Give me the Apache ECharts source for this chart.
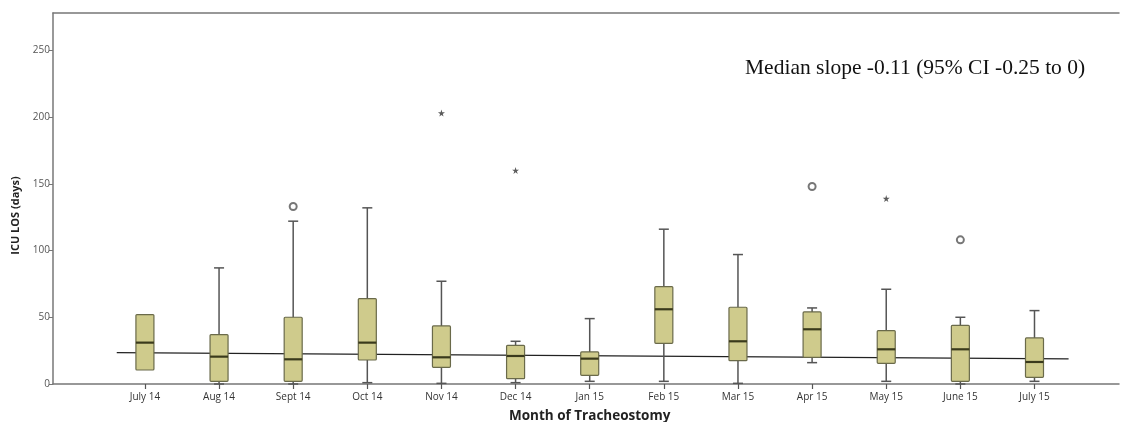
<!DOCTYPE html>
<html>
<head>
<meta charset="utf-8">
<script src="https://cdn.jsdelivr.net/npm/echarts@6/dist/echarts.min.js"></script>
<style>
  html, body { margin: 0; padding: 0; background: #fff; }
  #chart { width: 1122px; height: 422px; }
</style>
</head>
<body>
<div id="chart"></div>
<script>
// --- data ---
const months = ['July 14', 'Aug 14', 'Sept 14', 'Oct 14', 'Nov 14', 'Dec 14', 'Jan 15',
                'Feb 15', 'Mar 15', 'Apr 15', 'May 15', 'June 15', 'July 15'];
// [min, Q1, median, Q3, max] for each month (days)
const boxStats = [
    [10.5, 10.5, 31, 52, 52],
    [0, 2, 20.5, 37, 87],
    [0, 2, 18.5, 50, 122],
    [1, 18, 31, 64, 132],
    [0.5, 12.5, 20, 43.5, 77],
    [1, 4, 21, 29, 32],
    [2, 6.5, 19, 24, 49],
    [2, 30.5, 56, 73, 116],
    [0.5, 17.5, 32, 57.5, 97],
    [16, 20, 41, 54, 57],
    [2, 15.5, 26, 40, 71],
    [0, 2, 26, 44, 50],
    [2, 5, 16.5, 34.5, 55]
];
// outliers: [month index, value]
const circleOutliers = [[2, 133], [9, 148], [11, 108]];
const starOutliers = [[4, 203], [5, 160], [10, 139]];
// fitted median trend line (x in month index units)
const trendX = [-0.38, 12.46];
const trendY = [23.5, 18.8];
const yTicks = { min: 0, max: 278, interval: 50 };

// --- layout helpers (pixel frame of the plot) ---
const frameLeft = 53, frameRight = 3, frameTop = 13, frameBottom = 38;
const xMin = -1.24, xMax = 13.14;
const unit = (1122 - frameLeft - frameRight) / (xMax - xMin);
const catLeft = frameLeft + (0 - 0.5 - xMin) * unit;
const catRight = 1122 - catLeft - months.length * unit;

const chart = echarts.init(document.getElementById('chart'));

const boxFill = '#cfcb8c', boxEdge = '#6a6a4a', medianCol = '#3a3a1c', whiskCol = '#555';

function renderBox(params, api) {
    const i = api.value(0);
    const p = [1, 2, 3, 4, 5].map(d => api.coord([i, api.value(d)]));
    const cx = p[0][0], bw = 18, cw = 10;
    const children = [];
    const line = (x1, y1, x2, y2, col, w) => ({
        type: 'line', shape: { x1, y1, x2, y2 }, style: { stroke: col, lineWidth: w }
    });
    if (p[0][1] - p[1][1] > 0.5) {
        children.push(line(cx, p[1][1], cx, p[0][1], whiskCol, 1.5));
        children.push(line(cx - cw / 2, p[0][1], cx + cw / 2, p[0][1], whiskCol, 1.5));
    }
    if (p[3][1] - p[4][1] > 0.5) {
        children.push(line(cx, p[3][1], cx, p[4][1], whiskCol, 1.5));
        children.push(line(cx - cw / 2, p[4][1], cx + cw / 2, p[4][1], whiskCol, 1.5));
    }
    children.push({
        type: 'rect',
        shape: { x: cx - bw / 2, y: p[3][1], width: bw, height: p[1][1] - p[3][1], r: 1 },
        style: { fill: boxFill, stroke: boxEdge, lineWidth: 1.2 }
    });
    children.push(line(cx - bw / 2, p[2][1], cx + bw / 2, p[2][1], medianCol, 2.2));
    return { type: 'group', children };
}

const starPath = 'path://M50,0 L61,35 L98,35 L68,57 L79,91 L50,70 L21,91 L32,57 L2,35 L39,35 Z';
const axisGrey = '#777';

chart.setOption({
    animation: false,
    backgroundColor: '#fff',
    grid: [
        { left: frameLeft, right: frameRight, top: frameTop, bottom: frameBottom, outerBoundsMode: 'none' },
        { left: catLeft, right: catRight, top: frameTop, bottom: frameBottom, outerBoundsMode: 'none' }
    ],
    xAxis: [
        {
            type: 'value', gridIndex: 0, min: xMin, max: xMax, position: 'bottom',
            axisLine: { show: true, onZero: false, lineStyle: { color: axisGrey, width: 1.5 } },
            axisTick: { show: false }, axisLabel: { show: false }, splitLine: { show: false }
        },
        {
            type: 'value', gridIndex: 0, min: xMin, max: xMax, position: 'top',
            axisLine: { show: true, onZero: false, lineStyle: { color: axisGrey, width: 1.5 } },
            axisTick: { show: false }, axisLabel: { show: false }, splitLine: { show: false }
        },
        {
            type: 'category', gridIndex: 1, data: months,
            axisLine: { show: false },
            axisTick: { show: true, alignWithLabel: true, length: 5, lineStyle: { color: '#555', width: 1.2 } },
            axisLabel: { margin: 8, fontFamily: 'Open Sans', fontSize: 10, color: '#333' },
            name: 'Month of Tracheostomy', nameLocation: 'middle', nameGap: 25,
            nameTextStyle: { fontFamily: 'Open Sans', fontWeight: 'bold', fontSize: 13.5, color: '#222' }
        }
    ],
    yAxis: [
        {
            type: 'value', gridIndex: 0, min: yTicks.min, max: yTicks.max, interval: yTicks.interval,
            axisLine: { show: true, onZero: false, lineStyle: { color: axisGrey, width: 1.5 } },
            axisTick: { show: true, length: 4, lineStyle: { color: axisGrey } },
            axisLabel: { margin: 3, fontFamily: 'Open Sans', fontSize: 10, color: '#555',
                         showMaxLabel: false },
            splitLine: { show: false },
            name: 'ICU LOS (days)', nameLocation: 'middle', nameGap: 32,
            nameTextStyle: { fontFamily: 'Open Sans', fontWeight: 'bold', fontSize: 11, color: '#222',
                             padding: [0, 34, 0, 0] }
        },
        {
            type: 'value', gridIndex: 1, min: yTicks.min, max: yTicks.max, show: false
        }
    ],
    series: [
        {
            type: 'line', xAxisIndex: 0, yAxisIndex: 0, z: 1,
            data: trendX.map((x, k) => [x, trendY[k]]),
            symbol: 'none', lineStyle: { color: '#222', width: 1.2 }
        },
        {
            type: 'custom', xAxisIndex: 2, yAxisIndex: 1, z: 3,
            renderItem: renderBox,
            data: boxStats.map((s, i) => [i].concat(s))
        },
        {
            type: 'scatter', xAxisIndex: 2, yAxisIndex: 1, z: 4,
            data: circleOutliers, symbol: 'emptyCircle', symbolSize: 7,
            itemStyle: { color: '#555', borderColor: '#555', borderWidth: 1.5 }
        },
        {
            type: 'scatter', xAxisIndex: 2, yAxisIndex: 1, z: 4,
            data: starOutliers, symbol: starPath, symbolSize: 7,
            itemStyle: { color: '#333' }
        }
    ],
    graphic: [{
        type: 'text', left: 745, top: 57,
        style: { text: 'Median slope -0.11 (95% CI -0.25 to 0)', fontFamily: 'Liberation Serif',
                 fontSize: 21.5, fill: '#111' }
    }]
});
</script>
</body>
</html>
